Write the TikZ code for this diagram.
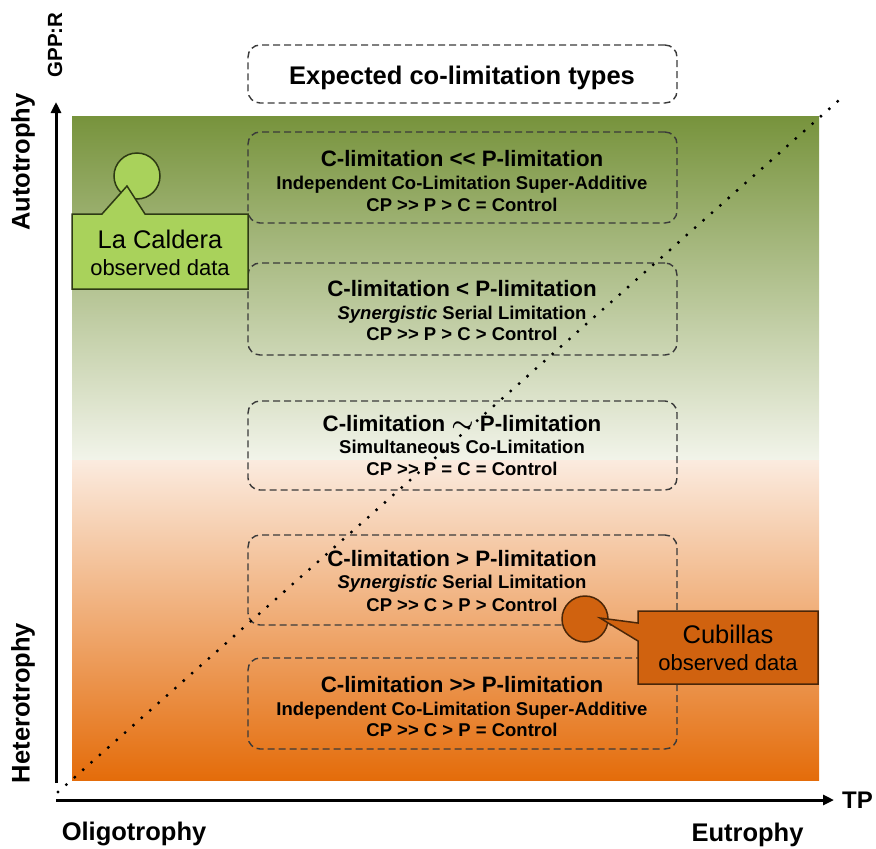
\documentclass[tikz,border=0pt]{standalone}
\usepackage{fontspec}
\setmainfont{Liberation Sans}
\usetikzlibrary{arrows.meta}
\definecolor{olivetop}{HTML}{77933C}
\definecolor{palegreen}{HTML}{F2F4EA}
\definecolor{peach}{HTML}{FBEBDF}
\definecolor{orangebot}{HTML}{E46C0A}
\definecolor{lagreen}{HTML}{A9D25B}
\definecolor{lcdark}{HTML}{2E3A14}
\definecolor{cuor}{HTML}{D0620F}
\definecolor{cudark}{HTML}{4A2608}
\definecolor{boxline}{HTML}{3A3A3A}
\newcommand\mylt{<\kern0pt<}
\newcommand\mygt{>\kern0pt>}
\begin{document}
\begin{tikzpicture}[x=1pt,y=-1pt,
  cbox/.style={draw=boxline, line width=1.4pt, dash pattern=on 7pt off 4pt, rounded corners=12pt, minimum width=429pt, inner sep=0pt},
  lhead/.style={font=\fontsize{22.3}{26}\selectfont\bfseries, anchor=base, inner sep=0pt},
  lsub/.style={font=\fontsize{18.5}{22}\selectfont\bfseries, anchor=base, inner sep=0pt},
  axlab/.style={font=\fontsize{25.5}{30}\selectfont\bfseries, inner sep=0pt},
  axisline/.style={line width=3pt, -{Triangle[length=11pt,width=10pt]}},
  dotcirc/.style={circle, line width=1.5pt, minimum size=46pt, inner sep=0pt},
  calltext/.style={font=\fontsize{25.5}{30}\selectfont, anchor=base, inner sep=0pt},
  callsub/.style={font=\fontsize{22}{26}\selectfont, anchor=base, inner sep=0pt},
]
\useasboundingbox (0,0) rectangle (876,849);
% background gradient
\shade[top color=olivetop, bottom color=palegreen] (72,116) rectangle (819,460.5);
\shade[top color=peach, bottom color=orangebot] (72,460) rectangle (819,780);

% title box
\node[cbox, minimum height=58pt] (tbox) at (462.5,74) {};
\node[font=\fontsize{25.5}{30}\selectfont\bfseries, anchor=base, inner sep=0pt] (title) at (462,84) {Expected co-limitation types};

% box 1
\node[cbox, minimum height=91pt] (b1) at (462.5,177.5) {};
\node[lhead] (b1h) at (462,166) {C-limitation \mylt{} P-limitation};
\node[lsub] (b1a) at (462,189) {Independent Co-Limitation Super-Additive};
\node[lsub] (b1b) at (462,211) {CP \mygt{} P > C = Control};

% box 2
\node[cbox, minimum height=92pt] (b2) at (462.5,309) {};
\node[lhead] (b2h) at (462,296) {C-limitation < P-limitation};
\node[lsub] (b2a) at (462,319.5) {\textit{Synergistic} Serial Limitation};
\node[lsub] (b2b) at (462,340.5) {CP \mygt{} P > C > Control};

% box 3
\node[cbox, minimum height=89pt] (b3) at (462.5,445.5) {};
\node[lhead] (b3h) at (462,431) {C-limitation {\fontsize{32}{32}\selectfont\boldmath$\sim$} P-limitation};
\node[lsub] (b3a) at (462,453.5) {Simultaneous Co-Limitation};
\node[lsub] (b3b) at (462,475.5) {CP \mygt{} P = C = Control};

% box 4
\node[cbox, minimum height=90pt] (b4) at (462.5,580) {};
\node[lhead] (b4h) at (462,566) {C-limitation > P-limitation};
\node[lsub] (b4a) at (462,588.5) {\textit{Synergistic} Serial Limitation};
\node[lsub] (b4b) at (462,611.5) {CP \mygt{} C > P > Control};

% box 5
\node[cbox, minimum height=91pt] (b5) at (462.5,703.5) {};
\node[lhead] (b5h) at (462,692) {C-limitation \mygt{} P-limitation};
\node[lsub] (b5a) at (462,715.5) {Independent Co-Limitation Super-Additive};
\node[lsub] (b5b) at (462,736.5) {CP \mygt{} C > P = Control};

% diagonal dotted line
\coordinate (d0) at (58,792);
\coordinate (d1) at (846,94);
\draw[line width=3.3pt, line cap=round, dash pattern=on 0pt off 11.2pt] (d0) -- (d1);

% La Caldera callout
\node[dotcirc, draw=lcdark, fill=lagreen] (lcdot) at (137,176) {};
\draw[draw=lcdark, fill=lagreen, line width=1.5pt, line join=miter]
  (72,214) -- (102,214) -- (127,186) -- (145,214) -- (248,214) -- (248,289) -- (72,289) -- cycle;
\node[calltext] (lc1) at (160,248) {La Caldera};
\node[callsub] (lc2) at (160,275) {observed data};

% Cubillas callout
\node[dotcirc, draw=cudark, fill=cuor] (cudot) at (585,619) {};
\draw[draw=cudark, fill=cuor, line width=1.5pt, line join=miter]
  (638,611) -- (818,611) -- (818,684) -- (638,684) -- (638,641) -- (600,618) -- (638,623) -- cycle;
\node[calltext] (cu1) at (728,643) {Cubillas};
\node[callsub] (cu2) at (728,670) {observed data};

% axes
\coordinate (yo) at (56,783);
\coordinate (ytop) at (56,102);
\coordinate (xo) at (56,800);
\coordinate (xend) at (834,800);
\draw[axisline] (yo) -- (ytop);
\draw[axisline] (xo) -- (xend);

% axis labels
\node[axlab, rotate=90] (auto) at (23,162) {Autotrophy};
\node[axlab, rotate=90] (hetero) at (23,703) {Heterotrophy};
\node[font=\fontsize{20.5}{24}\selectfont\bfseries, rotate=90, inner sep=0pt] (gpp) at (55,45) {GPP:R};
\node[axlab, anchor=base] (oligo) at (134,840) {Oligotrophy};
\node[axlab, anchor=base] (eu) at (747.5,841) {Eutrophy};
\node[font=\fontsize{24}{28}\selectfont\bfseries, inner sep=0pt] (tp) at (857.5,800) {TP};
\end{tikzpicture}
\end{document}
